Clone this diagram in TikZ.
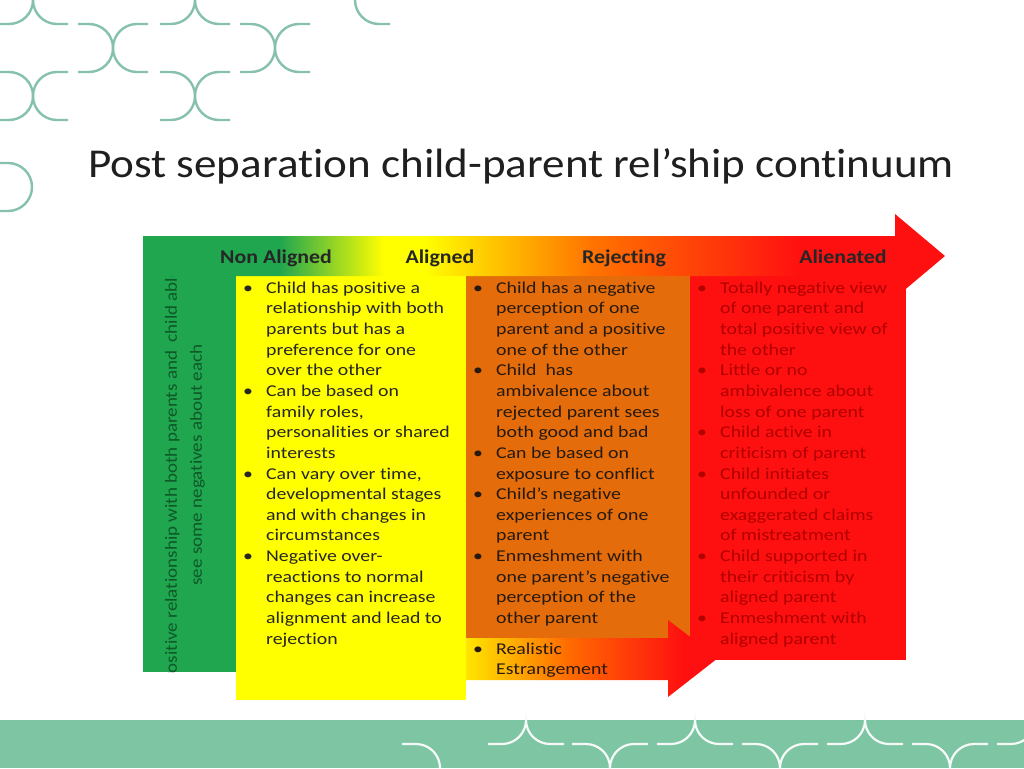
\documentclass[tikz,border=0pt]{standalone}
\usepackage{fontspec}
\setmainfont{Carlito}[RawFeature=-liga]
\newfontfamily\colfont{Carlito}[FakeStretch=1.2,RawFeature=-liga]
\newfontfamily\sidefont{Carlito}[FakeStretch=1.12,RawFeature=-liga]
\newfontfamily\headfont{Carlito}[FakeStretch=1.12,RawFeature=-liga]
\newfontfamily\titlefont{Carlito}[FakeStretch=1.1,RawFeature=-liga]
\usetikzlibrary{calc}
\definecolor{deco}{HTML}{86C2AB}
\definecolor{band}{HTML}{7DC5A3}
\definecolor{cgreen}{HTML}{1FA64F}
\definecolor{cyellow}{HTML}{FFFF00}
\definecolor{corange}{HTML}{E46C0A}
\definecolor{cred}{HTML}{FF1010}
\definecolor{tred}{HTML}{B00000}
\definecolor{tgreen}{HTML}{0F5828}
\pgfdeclarehorizontalshading{bigarrow}{100bp}{color(0bp)=(cgreen); color(33.5bp)=(cgreen); color(40bp)=(cyellow); color(42.5bp)=(cyellow); color(53bp)=(orange!90!red); color(66bp)=(cred); color(100bp)=(cred)}
\pgfdeclarehorizontalshading{smallarrow}{100bp}{color(0bp)=(cyellow!80!orange); color(25bp)=(cyellow!80!orange); color(45bp)=(orange!85!red); color(68bp)=(cred); color(100bp)=(cred)}
\newcommand{\rpar}[2]{\draw[decoline] ({#1-35},{#2-24}) -- ({#1-24},{#2-24}) arc[start angle=-90,end angle=90,radius=24] -- ({#1-35},{#2+24});}
\newcommand{\lpar}[2]{\draw[decoline] ({#1+35},{#2-24}) -- ({#1+24},{#2-24}) arc[start angle=-90,end angle=-270,radius=24] -- ({#1+35},{#2+24});}
\newcommand{\xpair}[2]{\rpar{#1}{#2}\lpar{#1}{#2}}
\newcommand{\cuspup}[2]{\draw[bandline] ({#1-38},{#2+24}) -- ({#1-24},{#2+24}) arc[start angle=90,end angle=0,radius=24] arc[start angle=180,end angle=90,radius=24] -- ({#1+38},{#2+24});}
\newcommand{\cuspdown}[2]{\draw[bandline] ({#1-38},{#2-24}) -- ({#1-24},{#2-24}) arc[start angle=-90,end angle=0,radius=24] arc[start angle=180,end angle=270,radius=24] -- ({#1+38},{#2-24});}
\begin{document}
\begin{tikzpicture}[x=1pt,y=-1pt,
  decoline/.style={draw=deco,line width=2.4pt},
  bandline/.style={draw=white!92!band,line width=2.2pt},
  coltext/.style={anchor=north west,inner sep=0pt,font=\colfont\fontsize{16.5}{20.65}\selectfont,align=left},
  head/.style={anchor=base,font=\headfont\fontsize{19.5}{22}\selectfont\bfseries,text=black!85}]
\useasboundingbox (0,0) rectangle (1024,768);
\begin{scope}
\clip (0,0) rectangle (1024,768);
\xpair{33}{0}\xpair{195}{0}
\xpair{113}{48}\xpair{275}{48}
\xpair{33}{96}\xpair{195}{96}
\lpar{355}{0}
\rpar{32}{187}
\fill[band] (0,720) rectangle (1024,768);
\draw[bandline] (402,744) -- (416,744) arc[start angle=-90,end angle=0,radius=24];
\cuspup{526}{720}\cuspdown{610}{768}
\cuspup{695}{720}\cuspdown{780}{768}
\cuspup{865}{720}\cuspdown{950}{768}
\cuspup{1035}{720}
\end{scope}
\node[anchor=base west,inner sep=0pt,font=\titlefont\fontsize{41}{46}\selectfont,text=black!88] (title) at (88,177) {Post separation child-parent rel’ship continuum};
\fill[cgreen] (143,276) rectangle (236,672);
\fill[cyellow] (236,276) rectangle (466,700);
\fill[corange] (466,276) rectangle (690,638);
\fill[cred] (690,276) rectangle (906,660);
\shade[shading=bigarrow] (143,236) -- (895,236) -- (895,214) -- (945,256) -- (895,298) -- (895,276) -- (143,276) -- cycle;
\shade[shading=smallarrow] (466,638) -- (668,638) -- (668,620) -- (718,658) -- (668,697) -- (668,680) -- (466,680) -- cycle;
\node[head] (h1) at (276,263) {Non Aligned};
\node[head] (h2) at (440,263) {Aligned};
\node[head] (h3) at (624,263) {Rejecting};
\node[head] (h4) at (843,263) {Alienated};
\begin{scope}
\clip (143,276) rectangle (236,672);
\node[rotate=90,align=center,inner sep=0pt,text=tgreen,font=\sidefont\fontsize{17}{25}\selectfont] (side) at (185,465) {Positive relationship with both parents and \ child able to\\see some negatives about each};
\end{scope}
\node[coltext,text=black!85] (ty) at (243,278.5) {\begin{tabular}{@{}p{23pt}@{}l@{}}
\textbullet & Child has positive a\\ & relationship with both\\ & parents but has a\\ & preference for one\\ & over the other\\
\textbullet & Can be based on\\ & family roles,\\ & personalities or shared\\ & interests\\
\textbullet & Can vary over time,\\ & developmental stages\\ & and with changes in\\ & circumstances\\
\textbullet & Negative over-\\ & reactions to normal\\ & changes can increase\\ & alignment and lead to\\ & rejection
\end{tabular}};
\node[coltext,text=black!80!brown] (to) at (473,278.5) {\begin{tabular}{@{}p{23pt}@{}l@{}}
\textbullet & Child has a negative\\ & perception of one\\ & parent and a positive\\ & one of the other\\
\textbullet & Child \ has\\ & ambivalence about\\ & rejected parent sees\\ & both good and bad\\
\textbullet & Can be based on\\ & exposure to conflict\\
\textbullet & Child’s negative\\ & experiences of one\\ & parent\\
\textbullet & Enmeshment with\\ & one parent’s negative\\ & perception of the\\ & other parent
\end{tabular}};
\node[coltext,text=black!80!brown] (tr) at (473,639.5) {\begin{tabular}{@{}p{23pt}@{}l@{}}
\textbullet & Realistic\\ & Estrangement
\end{tabular}};
\node[coltext,text=tred] (tz) at (697,278.5) {\begin{tabular}{@{}p{23pt}@{}l@{}}
\textbullet & Totally negative view\\ & of one parent and\\ & total positive view of\\ & the other\\
\textbullet & Little or no\\ & ambivalence about\\ & loss of one parent\\
\textbullet & Child active in\\ & criticism of parent\\
\textbullet & Child initiates\\ & unfounded or\\ & exaggerated claims\\ & of mistreatment\\
\textbullet & Child supported in\\ & their criticism by\\ & aligned parent\\
\textbullet & Enmeshment with\\ & aligned parent
\end{tabular}};
\end{tikzpicture}
\end{document}
